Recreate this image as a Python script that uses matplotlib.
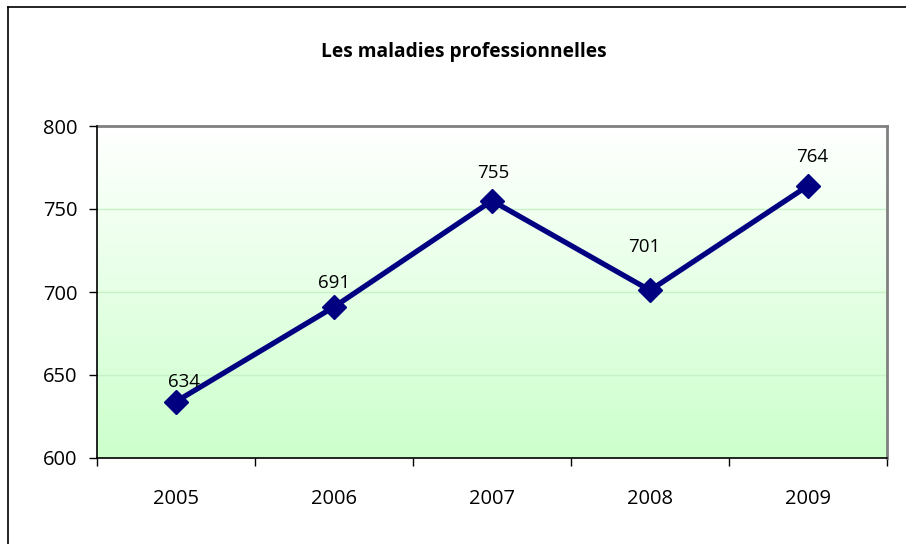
import numpy as np
import matplotlib
matplotlib.use('Agg')
import matplotlib.pyplot as plt
from matplotlib.lines import Line2D

# donnees
years = ['2005', '2006', '2007', '2008', '2009']
values = [634, 691, 755, 701, 764]
# decalage des etiquettes (points)
lab_dx = [6, 0, 1, -4, 3]
lab_dy = [14, 17, 20, 31, 21]

plt.rcParams['font.family'] = ['Open Sans', 'DejaVu Sans']

fig = plt.figure(figsize=(9.06, 5.44), dpi=100)
ax = fig.add_axes([97/906, 86/544, 790/906, 332/544])

x = np.arange(1, len(values) + 1)
ax.set_xlim(0.5, len(values) + 0.5)
ax.set_ylim(600, 800)

# fond en degrade blanc -> vert clair
grad = np.linspace(0, 1, 256).reshape(-1, 1)
top = np.array([1.0, 1.0, 1.0])
bot = np.array([204, 255, 204]) / 255
img = top + grad * (bot - top)
img = img.reshape(256, 1, 3)
ax.imshow(img, extent=[0.5, len(values) + 0.5, 600, 800], aspect='auto',
          origin='upper', zorder=0)

for yv in [650, 700, 750]:
    ax.axhline(yv, color='#c6f2c6', lw=1, zorder=1)

ax.plot(x, values, color='#000080', lw=3.8, marker='D', markersize=12, zorder=3)

for xi, v, dx, dy in zip(x, values, lab_dx, lab_dy):
    ax.annotate(str(v), (xi, v), xytext=(dx, dy), textcoords='offset points',
                ha='center', va='center', fontsize=13.5)

ax.set_yticks([600, 650, 700, 750, 800])
ax.set_xticks(x)
ax.set_xticklabels(years)
ax.set_xticks(np.arange(0.5, len(values) + 1), minor=True)
ax.tick_params(axis='x', which='major', length=0, pad=22, labelsize=14.5)
ax.tick_params(axis='x', which='minor', length=6, width=1, direction='out', color='black')
ax.tick_params(axis='y', length=6, width=1, direction='out', pad=8, labelsize=14.5)

ax.spines['left'].set_color('black')
ax.spines['bottom'].set_color('black')
ax.spines['left'].set_linewidth(1.2)
ax.spines['bottom'].set_linewidth(1.2)
for s in ['top', 'right']:
    ax.spines[s].set_color('#808080')
    ax.spines[s].set_linewidth(2)
ax.spines['left'].set_zorder(5)
ax.spines['bottom'].set_zorder(5)

fig.text(464/906, 1 - 52/544, 'Les maladies professionnelles', ha='center', va='center',
         fontsize=13.8, fontweight='bold')

# cadre exterieur (haut et gauche)
fig.add_artist(Line2D([8/906, 1], [1 - 7/544, 1 - 7/544], color='black', lw=1.2))
fig.add_artist(Line2D([8/906, 8/906], [0, 1 - 7/544], color='black', lw=1.2))

fig.savefig('out.png', dpi=100)
